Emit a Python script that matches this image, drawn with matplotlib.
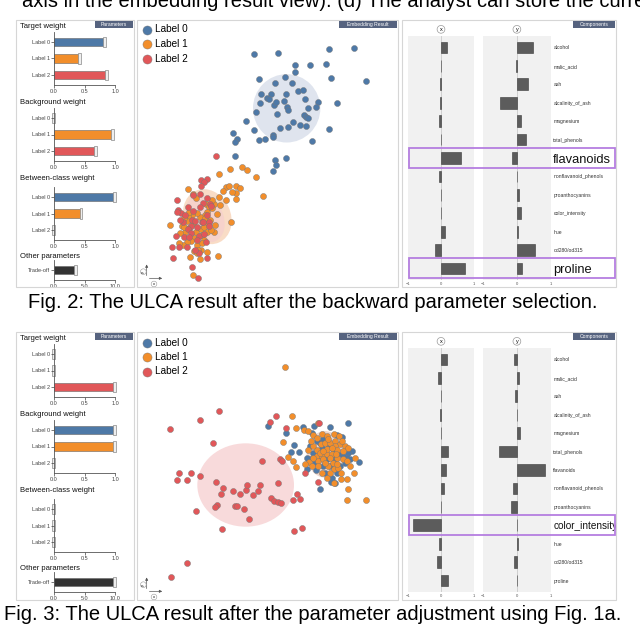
import numpy as np
import matplotlib.pyplot as plt
from matplotlib.patches import Rectangle, Ellipse

plt.rcParams['font.family'] = ['Liberation Sans', 'DejaVu Sans']

W, H = 640, 627

# ---- parameter weights
labels = ['Label 0', 'Label 1', 'Label 2']
colors = ['#4e79a7', '#f28e2b', '#e15759']
fig2_target = [0.84, 0.43, 0.87]
fig2_background = [0.0, 0.97, 0.69]
fig2_between = [1.0, 0.45, 0.0]
fig2_tradeoff = [3.6]
fig3_target = [0.0, 0.0, 1.0]
fig3_background = [1.0, 1.0, 0.0]
fig3_between = [0.0, 0.0, 0.0]
fig3_tradeoff = [10.0]

# ---- component loadings
features = ['alcohol', 'malic_acid', 'ash', 'alcalinity_of_ash', 'magnesium',
            'total_phenols', 'flavanoids', 'nonflavanoid_phenols',
            'proanthocyanins', 'color_intensity', 'hue', 'od280/od315', 'proline']
fig2_comp_x = [0.18, 0.0, -0.04, -0.04, -0.07, 0.01, 0.60, -0.06, 0.01, 0.01, 0.11, -0.17, 0.74]
fig2_comp_y = [0.48, -0.02, 0.33, -0.50, 0.13, 0.26, -0.16, 0.0, 0.05, 0.12, 0.02, 0.55, 0.15]
fig3_comp_x = [0.17, -0.08, 0.0, -0.04, 0.0, 0.21, 0.16, 0.08, 0.0, -0.87, -0.07, -0.13, 0.22]
fig3_comp_y = [-0.09, 0.07, -0.07, 0.0, 0.09, -0.53, 0.83, -0.11, -0.17, 0.0, 0.03, -0.08, 0.0]
fig2_highlight = ['flavanoids', 'proline']
fig3_highlight = ['color_intensity']

# ---- embedding points (view units, y grows downwards)
fig2_l0_x = [372, 443, 597, 671, 494, 540, 588, 495, 387, 436, 464, 486, 602, 709, 392, 424, 410, 416,
             468, 503, 520, 525, 390, 431, 437, 462, 470, 474, 565, 620, 559, 534, 379, 441, 521, 529,
             534, 349, 489, 450, 474, 509, 527, 596, 373, 310, 320, 315, 386, 404, 428, 429, 545, 316,
             469, 435, 437, 428]
fig2_l0_y = [101, 100, 86, 84, 135, 134, 133, 157, 177, 189, 170, 189, 174, 184, 222, 222, 234, 236,
             221, 213, 210, 236, 250, 255, 245, 243, 261, 270, 245, 248, 262, 264, 276, 281, 285, 291,
             293, 303, 306, 325, 321, 316, 318, 328, 331, 340, 356, 367, 361, 358, 345, 350, 364, 407,
             413, 420, 435, 453]
fig2_l1_x = [268, 300, 336, 351, 377, 399, 288, 296, 318, 330, 319, 305, 288, 318, 266, 279, 253, 260,
             304, 253, 175, 190, 197, 229, 236, 247, 231, 226, 210, 200, 187, 173, 170, 162, 156, 120,
             178, 165, 197, 212, 222, 232, 242, 215, 193, 184, 170, 159, 146, 202, 213, 205, 192, 210,
             180, 263, 188, 230, 221, 163, 232, 150, 245, 270, 225, 190, 240, 200, 255, 215, 178]
fig2_l1_y = [462, 447, 440, 450, 471, 528, 502, 497, 498, 505, 520, 516, 541, 538, 530, 513, 552, 583,
             607, 636, 507, 522, 534, 551, 560, 565, 577, 586, 590, 578, 586, 588, 603, 594, 617, 614,
             625, 636, 637, 628, 622, 636, 630, 645, 655, 664, 667, 676, 670, 675, 690, 691, 693, 718,
             710, 709, 765, 697, 660, 620, 605, 640, 540, 555, 595, 610, 600, 700, 615, 670, 575]
fig2_l2_x = [257, 212, 232, 222, 213, 210, 190, 231, 141, 219, 240, 243, 145, 152, 140, 166, 185, 196,
             215, 236, 184, 173, 183, 207, 221, 200, 228, 139, 162, 125, 148, 172, 128, 208, 232, 186,
             203, 220, 237, 200, 190, 175, 160, 195, 230, 210, 176, 150]
fig2_l2_y = [407, 480, 478, 487, 497, 523, 525, 535, 540, 548, 552, 558, 570, 580, 577, 585, 600, 604,
             605, 606, 618, 627, 640, 648, 641, 659, 666, 648, 650, 680, 682, 680, 715, 700, 714, 742,
             775, 607, 617, 620, 572, 560, 605, 690, 585, 560, 650, 600]

fig3_l0_x = [415, 467, 520, 551, 601, 655, 545, 493, 484, 508, 539, 555, 530, 557, 569, 603, 616, 688,
             665, 637, 622, 580, 570, 640, 610, 590, 630, 550, 600, 575, 560, 620, 645, 655, 540, 595,
             625, 580, 565, 612, 650, 530, 585, 605, 660]
fig3_l0_y = [300, 320, 302, 300, 302, 291, 322, 358, 377, 378, 398, 412, 430, 433, 490, 467, 470, 408,
             375, 332, 326, 340, 350, 390, 370, 400, 420, 380, 420, 365, 345, 440, 410, 380, 360, 355,
             385, 420, 395, 398, 395, 395, 440, 455, 400]
fig3_l1_x = [466, 485, 498, 521, 535, 563, 460, 474, 490, 497, 537, 548, 560, 575, 590, 612, 628, 535,
             548, 560, 572, 585, 600, 615, 630, 645, 655, 560, 575, 590, 605, 620, 640, 650, 610, 595,
             612, 625, 565, 580, 600, 676, 672, 652, 633, 611, 655, 652, 709, 525, 543, 590, 570, 615,
             600, 585, 632, 622, 550, 640, 575, 595, 660, 620, 605, 565, 545, 635, 580, 590, 617]
fig3_l1_y = [123, 270, 306, 313, 316, 290, 347, 394, 404, 423, 408, 328, 335, 325, 330, 324, 330, 372,
             360, 372, 355, 352, 350, 345, 355, 360, 365, 390, 390, 385, 385, 395, 400, 405, 410, 420,
             430, 425, 405, 400, 440, 397, 442, 458, 458, 472, 490, 522, 522, 415, 345, 370, 380, 360,
             395, 410, 440, 372, 395, 375, 440, 340, 420, 415, 365, 420, 420, 345, 375, 455, 385]
fig3_l2_x = [120, 211, 267, 420, 437, 469, 568, 250, 146, 142, 172, 184, 211, 258, 279, 272, 310, 329,
             348, 352, 368, 384, 390, 396, 449, 457, 443, 424, 432, 444, 453, 489, 502, 511, 526, 564,
             262, 256, 316, 321, 341, 358, 198, 276, 493, 515, 170, 124]
fig3_l2_y = [309, 282, 256, 287, 270, 306, 291, 351, 442, 463, 462, 442, 449, 468, 485, 503, 494, 505,
             492, 476, 506, 494, 478, 404, 400, 404, 471, 516, 524, 527, 530, 523, 505, 519, 440, 468,
             537, 542, 540, 541, 548, 579, 555, 608, 615, 605, 712, 754]

fig = plt.figure(figsize=(6.4, 6.27), dpi=100)


def rect(x0, y0, x1, y1):
    return [x0 / W, 1 - y1 / H, (x1 - x0) / W, (y1 - y0) / H]


def param_group(b0, values, cols, names, xmax, ticklabels):
    n = len(values)
    step = 16.5
    ax = fig.add_axes(rect(54, b0 - 0.6 * step, 115, b0 + (n - 0.4) * step))
    ax.patch.set_alpha(0)
    ax.set_xlim(0, xmax)
    ax.set_ylim(n - 0.4, -0.6)
    pos = np.arange(n)
    vals = np.array(values)
    ax.barh(pos, vals, height=0.52, color=cols, edgecolor='#666666', lw=0.4)
    ax.barh(pos, 0.045 * xmax, left=vals - 0.03 * xmax, height=0.62, color='#eeeeee',
            edgecolor='#8a8a8a', lw=0.5, clip_on=False)
    for s in ['top', 'right']:
        ax.spines[s].set_visible(False)
    for s in ['left', 'bottom']:
        ax.spines[s].set_color('#555555')
        ax.spines[s].set_linewidth(0.6)
    ax.set_yticks(pos, names)
    ax.set_xticks(np.linspace(0, xmax, 3), ticklabels)
    ax.tick_params(length=2, width=0.5, pad=1, labelsize=4, colors='#444444')


def param_panel(T, target, background, between, tradeoff):
    unit = ['0.0', '0.5', '1.0']
    param_group(T + 21, target, colors, labels, 1.0, unit)
    param_group(T + 97, background, colors, labels, 1.0, unit)
    param_group(T + 176, between, colors, labels, 1.0, unit)
    param_group(T + 249, tradeoff, ['#333333'], ['Trade-off'], 10.0, ['0.0', '5.0', '10.0'])


def emb_panel(T, y0, y1, pts, ells):
    ax = fig.add_axes(rect(137, T, 398, T + 267))
    ax.set_xlim(21, 804)
    ax.set_ylim(y1, y0)
    ax.axis('off')
    for (cx, cy, w, h, ang, c) in ells:
        ax.add_patch(Ellipse((cx, cy), w, h, angle=ang, color=c, lw=0, zorder=1))
    for (xs, ys), lab, c in zip(pts, labels, colors):
        ax.scatter(xs, ys, s=19, color=c, edgecolors='#777777', linewidths=0.3, zorder=3, label=lab)
    ax.legend(loc='upper left', frameon=False, fontsize=7.2, markerscale=1.5, handletextpad=0.35,
              labelspacing=0.45, borderaxespad=0.2, borderpad=0.25, handlelength=1.0)
    # axis indicator
    ox, oy = 50, y1 - 26
    ax.annotate('', xy=(ox, oy - 50), xytext=(ox, oy),
                arrowprops=dict(arrowstyle='-|>', lw=0.5, color='#555555', mutation_scale=4))
    ax.annotate('', xy=(ox + 55, oy), xytext=(ox, oy),
                arrowprops=dict(arrowstyle='-|>', lw=0.5, color='#555555', mutation_scale=4))
    circ = dict(boxstyle='circle,pad=0.2', fc='white', ec='#999999', lw=0.4)
    ax.text(ox - 10, oy - 20, 'y', fontsize=3, rotation=90, ha='center', va='center', bbox=circ)
    ax.text(ox + 22, oy + 17, 'x', fontsize=3, ha='center', va='center', bbox=circ)


def comp_panel(T, xv, yv, hl, hl_size):
    pos = np.arange(len(features))
    for k, (vals, x0, x1, name) in enumerate([(xv, 408.3, 473.7, 'x'), (yv, 483.3, 550.5, 'y')]):
        ax = fig.add_axes(rect(x0, T + 16, x1, T + 260))
        ax.set_facecolor('#f1f1f1')
        ax.set_xlim(-1, 1)
        ax.set_ylim(12.62, -0.62)
        ax.axvline(0, color='#cfcfcf', lw=0.7, zorder=1)
        ax.barh(pos, vals, height=0.64, color='#5c5c5c', edgecolor='#3a3a3a', lw=0.4, zorder=2)
        for s in ax.spines.values():
            s.set_visible(False)
        ax.set_xticks([-1, 0, 1], ['\u22121', '0', '1'])
        ax.tick_params(axis='x', length=0, pad=1.2, labelsize=3, colors='#555555')
        if k == 1:
            ax.yaxis.tick_right()
            ax.set_yticks(pos, features)
            ax.tick_params(axis='y', length=0, pad=2, labelsize=3.6, colors='#333333')
            for lab in ax.get_yticklabels():
                if lab.get_text() in hl:
                    lab.set_fontsize(hl_size)
                    lab.set_color('#111111')
        else:
            ax.set_yticks([])
        ax.annotate(name, xy=(0.5, 1), xycoords='axes fraction', xytext=(0, 4.8),
                    textcoords='offset points', ha='center', va='center', fontsize=4,
                    bbox=dict(boxstyle='circle,pad=0.25', fc='white', ec='#999999', lw=0.5))


# ---- Fig. 2
param_panel(21, fig2_target, fig2_background, fig2_between, fig2_tradeoff)
emb_panel(20, 0, 801,
          [(fig2_l0_x, fig2_l0_y), (fig2_l1_x, fig2_l1_y), (fig2_l2_x, fig2_l2_y)],
          [(470, 265, 202, 205, 0, '#dfe4ee'),
           (232, 590, 140, 170, -25, '#f9dcc6'),
           (225, 595, 110, 150, -25, '#f6d2cb')])
comp_panel(20, fig2_comp_x, fig2_comp_y, fig2_highlight, 9.3)

# ---- Fig. 3
param_panel(333, fig3_target, fig3_background, fig3_between, fig3_tradeoff)
emb_panel(333, 21, 822,
          [(fig3_l0_x, fig3_l0_y), (fig3_l1_x, fig3_l1_y), (fig3_l2_x, fig3_l2_y)],
          [(347, 477, 290, 250, 0, '#f8dadb'),
           (585, 385, 110, 140, 0, '#eed8cf')])
comp_panel(332, fig3_comp_x, fig3_comp_y, fig3_highlight, 7.2)

# ---- overlay: frames, tags, highlights, captions
ov = fig.add_axes([0, 0, 1, 1])
ov.set_xlim(0, W)
ov.set_ylim(H, 0)
ov.axis('off')
ov.patch.set_alpha(0)

for T, B in [(20, 287), (332, 600)]:
    for x0, x1 in [(16, 134), (137, 398), (402, 616)]:
        ov.add_patch(Rectangle((x0, T), x1 - x0, B - T, fill=False, ec='#d6d6d6', lw=0.8))
    for x0, x1, txt in [(95, 133, 'Parameters'), (339, 397, 'Embedding Result'),
                        (573, 615, 'Components')]:
        ov.add_patch(Rectangle((x0, T + 1), x1 - x0, 7, color='#56637f', lw=0))
        ov.text((x0 + x1) / 2, T + 4.6, txt, color='white', fontsize=3.6, ha='center', va='center')
    for off, txt in [(5.5, 'Target weight'), (81, 'Background weight'),
                     (158, 'Between-class weight'), (235, 'Other parameters')]:
        ov.text(20, T + off + 1, txt, fontsize=5.5, ha='left', va='center', color='#111111')

for T, hl in [(20, fig2_highlight), (332, fig3_highlight)]:
    for f in hl:
        yc = T + 27.5 + features.index(f) * 18.4
        ov.add_patch(Rectangle((408.5, yc - 10), 206.5, 20, fill=False, ec='#b57ee0', lw=1.3))

ov.text(22, 7, 'axis in the embedding result view). (d) The analyst can store the current',
        fontsize=14.5, ha='left', va='baseline')
ov.text(313, 302, 'Fig. 2: The ULCA result after the backward parameter selection.',
        fontsize=14.5, ha='center', va='center')
ov.text(313, 614, 'Fig. 3: The ULCA result after the parameter adjustment using Fig. 1a.',
        fontsize=14.5, ha='center', va='center')

fig.savefig('out.png', dpi=100)
